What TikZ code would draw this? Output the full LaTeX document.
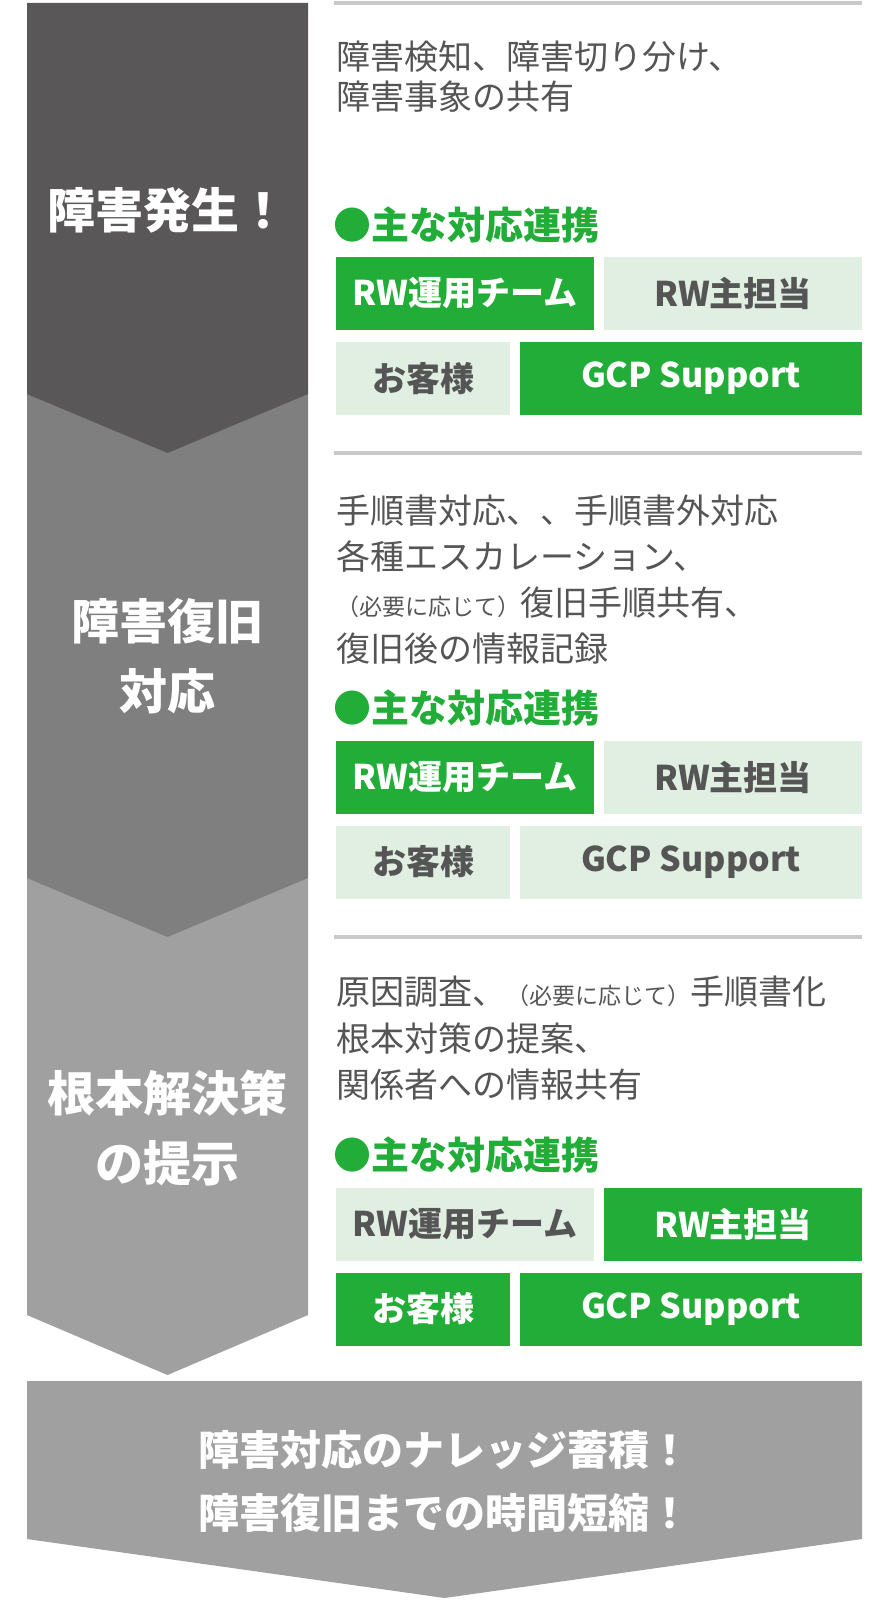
\documentclass[tikz,border=0pt]{standalone}
\usepackage{fontspec}
\setmainfont{Noto Sans CJK JP}
\definecolor{stepdark}{HTML}{595757}
\definecolor{stepmid}{HTML}{7F7F7F}
\definecolor{steplight}{HTML}{A0A0A0}
\definecolor{rwgreen}{HTML}{22AC38}
\definecolor{palegreen}{HTML}{E0EFE2}
\definecolor{sepgray}{HTML}{C9C9C9}
\definecolor{bodygray}{HTML}{555555}
\tikzset{
  sepline/.style={draw=sepgray, line width=3pt},
  steplabel/.style={text=white, align=center, inner sep=0pt, font=\bfseries\fontsize{36pt}{52.5pt}\selectfont},
  bodytext/.style={anchor=west, align=left, text=bodygray, inner sep=0pt},
  headtext/.style={anchor=west, text=rwgreen, inner sep=0pt, font=\bfseries\fontsize{28.5pt}{30pt}\selectfont},
  onbox/.style={fill=rwgreen, text=white, minimum height=54.75pt, inner sep=0pt, font=\bfseries\fontsize{25.5pt}{27pt}\selectfont},
  offbox/.style={fill=palegreen, text=bodygray, minimum height=54.75pt, inner sep=0pt, font=\bfseries\fontsize{25.5pt}{27pt}\selectfont},
  wide/.style={minimum width=193.5pt},
  narrow/.style={minimum width=130.5pt},
  longbox/.style={minimum width=256.5pt}
}
\newcommand{\smallnote}[1]{{\fontsize{17.25pt}{20pt}\selectfont #1}}

\begin{document}
\begin{tikzpicture}[x=0.75pt, y=-0.75pt]
  \useasboundingbox (0,0) rectangle (889,1601);

  % step arrows, lowest first
  \fill[steplight] (27,878) -- (308,878) -- (308,1315) -- (167.5,1375) -- (27,1315) -- cycle;
  \fill[stepmid] (27,394) -- (308,394) -- (308,878) -- (167.5,937) -- (27,878) -- cycle;
  \fill[stepdark] (27,3) -- (308,3) -- (308,394) -- (167.5,453) -- (27,394) -- cycle;
  \fill[steplight] (27,1381) -- (862,1381) -- (862,1539) -- (444.5,1598) -- (27,1539) -- cycle;

  \node[steplabel] (lab1) at (167.5,210) {障害発生！};
  \node[steplabel] (lab2) at (167.5,656) {障害復旧\\対応};
  \node[steplabel] (lab3) at (167.5,1128) {根本解決策\\の提示};
  \node[steplabel, font=\bfseries\fontsize{30.75pt}{47.25pt}\selectfont] (goal) at (444.5,1481) {障害対応のナレッジ蓄積！\\障害復旧までの時間短縮！};

  % separators
  \draw[sepline] (334,3) -- (862,3);
  \draw[sepline] (334,453) -- (862,453);
  \draw[sepline] (334,937) -- (862,937);

  % step 1
  \node[bodytext, font=\fontsize{25.5pt}{30pt}\selectfont] (txt1) at (336,77) {障害検知、障害切り分け、\\障害事象の共有};
  \node[headtext] (head1) at (333,225) {●主な対応連携};
  \node[onbox, wide] (team1) at (465,293.5) {RW運用チーム};
  \node[offbox, wide] (main1) at (733,293.5) {RW主担当};
  \node[offbox, narrow] (cust1) at (423,378.5) {お客様};
  \node[onbox, longbox] (gcp1) at (691,378.5) {GCP Support};

  % step 2
  \node[bodytext, font=\fontsize{25.5pt}{34.7pt}\selectfont] (txt2) at (336,579.5) {手順書対応、、手順書外対応\\各種エスカレーション、\\\smallnote{（必要に応じて）}復旧手順共有、\\復旧後の情報記録};
  \node[headtext] (head2) at (333,708) {●主な対応連携};
  \node[onbox, wide] (team2) at (465,777) {RW運用チーム};
  \node[offbox, wide] (main2) at (733,777) {RW主担当};
  \node[offbox, narrow] (cust2) at (423,862) {お客様};
  \node[offbox, longbox] (gcp2) at (691,862) {GCP Support};

  % step 3
  \node[bodytext, font=\fontsize{25.5pt}{34.9pt}\selectfont] (txt3) at (336,1038.5) {原因調査、\smallnote{（必要に応じて）}手順書化\\根本対策の提案、\\関係者への情報共有};
  \node[headtext] (head3) at (333,1155) {●主な対応連携};
  \node[offbox, wide] (team3) at (465,1224) {RW運用チーム};
  \node[onbox, wide] (main3) at (733,1224) {RW主担当};
  \node[onbox, narrow] (cust3) at (423,1309) {お客様};
  \node[onbox, longbox] (gcp3) at (691,1309) {GCP Support};
\end{tikzpicture}
\end{document}
